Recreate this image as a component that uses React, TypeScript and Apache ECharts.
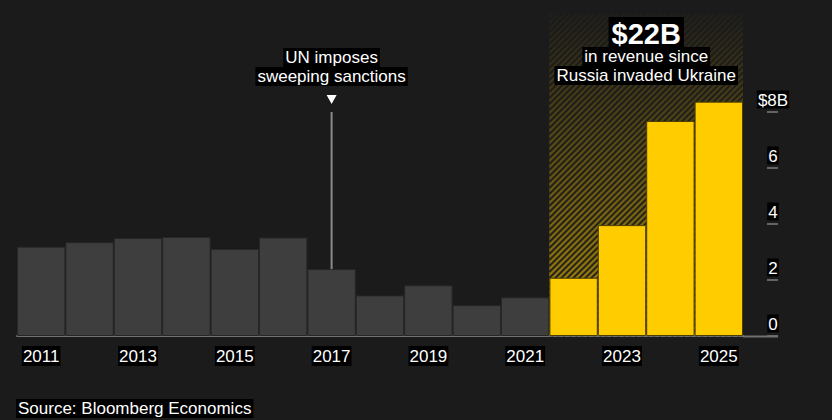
import React, { useEffect, useRef } from "react";
import * as echarts from "echarts";

const years = ["2011", "2012", "2013", "2014", "2015", "2016", "2017", "2018", "2019", "2020", "2021", "2022", "2023", "2024", "2025"];
const revenue = [3.19, 3.35, 3.5, 3.54, 3.11, 3.52, 2.39, 1.45, 1.81, 1.1, 1.38, 2.08, 3.96, 7.68, 8.37];
const invasionStartYear = "2022";
const sanctionsYear = "2017";
const yTickValues = [0, 2, 4, 6, 8];
const yTopValue = 11.5;
const headline = "$22B";
const headlineSub = ["in revenue since", "Russia invaded Ukraine"];
const annotationLines = ["UN imposes", "sweeping sanctions"];
const sourceText = "Source: Bloomberg Economics";

const FONT = '"Liberation Sans", Arial, sans-serif';
const BG = "#1b1b1b";
const AXIS = "#707070";
const FS = 17;

export default function App() {
  const ref = useRef<HTMLDivElement>(null);
  useEffect(() => {
    const el = ref.current!;
    const chart = echarts.init(el, null, { renderer: "svg" });
    const startIdx = years.indexOf(invasionStartYear);
    const endIdx = years.length - 1;
    const barData = revenue.map((v, i) => ({
      value: v,
      itemStyle:
        i >= startIdx
          ? { color: "#ffcc00", borderColor: "#4a3e00", borderWidth: 1 }
          : { color: "#3e3e3e", borderColor: "#272727", borderWidth: 1 },
    }));

    chart.setOption({
      animation: false,
      backgroundColor: BG,
      grid: { left: 17, right: 89, top: 14, bottom: 84 },
      xAxis: {
        type: "category",
        data: years,
        axisLine: { lineStyle: { color: AXIS, width: 2 } },
        axisTick: { interval: 1, alignWithLabel: true, length: 6, lineStyle: { color: AXIS, width: 2 } },
        axisLabel: {
          interval: 1,
          margin: 10,
          color: "#fff",
          fontFamily: FONT,
          fontSize: FS,
          backgroundColor: "#000",
          padding: [1, 1, 0, 1],
          lineHeight: 19,
        },
      },
      yAxis: {
        type: "value",
        position: "right",
        offset: 24,
        min: 0,
        max: yTopValue,
        splitLine: { show: false },
        axisLine: { show: false },
        axisTick: { show: true, length: 11, customValues: yTickValues, lineStyle: { color: "#7c7c7c", width: 1.5 } },
        axisLabel: {
          customValues: yTickValues,
          margin: 6,
          align: "center",
          verticalAlign: "bottom",
          padding: [0, 0, 3, 0],
          formatter: (v: number) => `{b|${v === yTickValues[yTickValues.length - 1] ? "$" + v + "B" : v}}`,
          rich: {
            b: {
              color: "#fff",
              backgroundColor: "#000",
              fontFamily: FONT,
              fontSize: FS,
              lineHeight: 19,
              padding: [1, 1, 0, 1],
            },
          },
        },
      },
      series: [
        {
          type: "custom",
          z: 1,
          silent: true,
          data: [[startIdx, endIdx]],
          renderItem: (params: any, api: any) => {
            const i0 = api.value(0);
            const i1 = api.value(1);
            const w = api.size([1, 0])[0];
            const p0 = api.coord([i0, 0]);
            const p1 = api.coord([i1, yTopValue]);
            const x0 = p0[0] - w / 2;
            const x1 = p1[0] + w / 2;
            const yb = p0[1];
            const yt = p1[1];
            const children: any[] = [
              {
                type: "rect",
                shape: { x: x0, y: yt, width: x1 - x0, height: yb - yt },
                style: {
                  fill: new echarts.graphic.LinearGradient(0, 0, 0, 1, [
                    { offset: 0, color: "rgba(255,204,0,0.02)" },
                    { offset: 1, color: "rgba(255,204,0,0.64)" },
                  ]),
                },
              },
            ];
            for (let c = x0 + yt; c <= x1 + yb; c += 6) {
              const xa = Math.max(x0, c - yb);
              const xb = Math.min(x1, c - yt);
              if (xb > xa) {
                children.push({
                  type: "line",
                  shape: { x1: xa, y1: c - xa, x2: xb, y2: c - xb },
                  style: { stroke: "rgba(27,27,27,0.9)", lineWidth: 2 },
                });
              }
            }
            return { type: "group", children };
          },
        },
        {
          type: "bar",
          z: 2,
          data: barData,
          barCategoryGap: 0,
        },
      ],
    });

    const sIdx = years.indexOf(sanctionsYear);
    const sTop = chart.convertToPixel({ xAxisIndex: 0, yAxisIndex: 0 }, [sIdx, revenue[sIdx]]) as number[];
    const origin = chart.convertToPixel({ xAxisIndex: 0, yAxisIndex: 0 }, [0, 0]) as number[];
    const c0 = chart.convertToPixel({ xAxisIndex: 0, yAxisIndex: 0 }, [startIdx, 0]) as number[];
    const c1 = chart.convertToPixel({ xAxisIndex: 0, yAxisIndex: 0 }, [endIdx, 0]) as number[];
    const hatchCenter = (c0[0] + c1[0]) / 2;
    const band = (c1[0] - c0[0]) / (endIdx - startIdx);
    const axisRight = c1[0] + band / 2;
    const sx = sTop[0];

    const boxText = (text: string, x: number, y: number, size: number, bold: boolean, align = "center") => ({
      type: "text",
      x,
      y,
      z: 100,
      silent: true,
      style: {
        text,
        fill: "#fff",
        font: `${bold ? "bold " : ""}${size}px ${FONT}`,
        align,
        verticalAlign: "top",
        backgroundColor: "#000",
        padding: bold ? [2, 3, 1, 3] : [1, 2, 1, 2],
      },
    });

    chart.setOption({
      graphic: [
        {
          type: "line",
          silent: true,
          z: 100,
          shape: { x1: axisRight, y1: origin[1] + 0.5, x2: axisRight + 35, y2: origin[1] + 0.5 },
          style: { stroke: AXIS, lineWidth: 2 },
        },
        boxText(headline, hatchCenter, 17, 29, true),
        boxText(headlineSub[0], hatchCenter, 47, FS, false),
        boxText(headlineSub[1], hatchCenter, 66, FS, false),
        boxText(annotationLines[0], sx, 48, FS, false),
        boxText(annotationLines[1], sx, 67, FS, false),
        {
          type: "polygon",
          silent: true,
          z: 100,
          shape: { points: [[sx - 5, 95], [sx + 5, 95], [sx, 104]] },
          style: { fill: "#fff" },
        },
        {
          type: "line",
          silent: true,
          z: 100,
          shape: { x1: sx, y1: 112, x2: sx, y2: sTop[1] },
          style: { stroke: "#8a8a8a", lineWidth: 2 },
        },
        boxText(sourceText, 16, 399, FS, false, "left"),
      ],
    });

    return () => chart.dispose();
  }, []);
  return (
    <div
      ref={ref}
      style={{ position: "fixed", left: 0, top: 0, width: 832, height: 420, background: BG }}
    />
  );
}
